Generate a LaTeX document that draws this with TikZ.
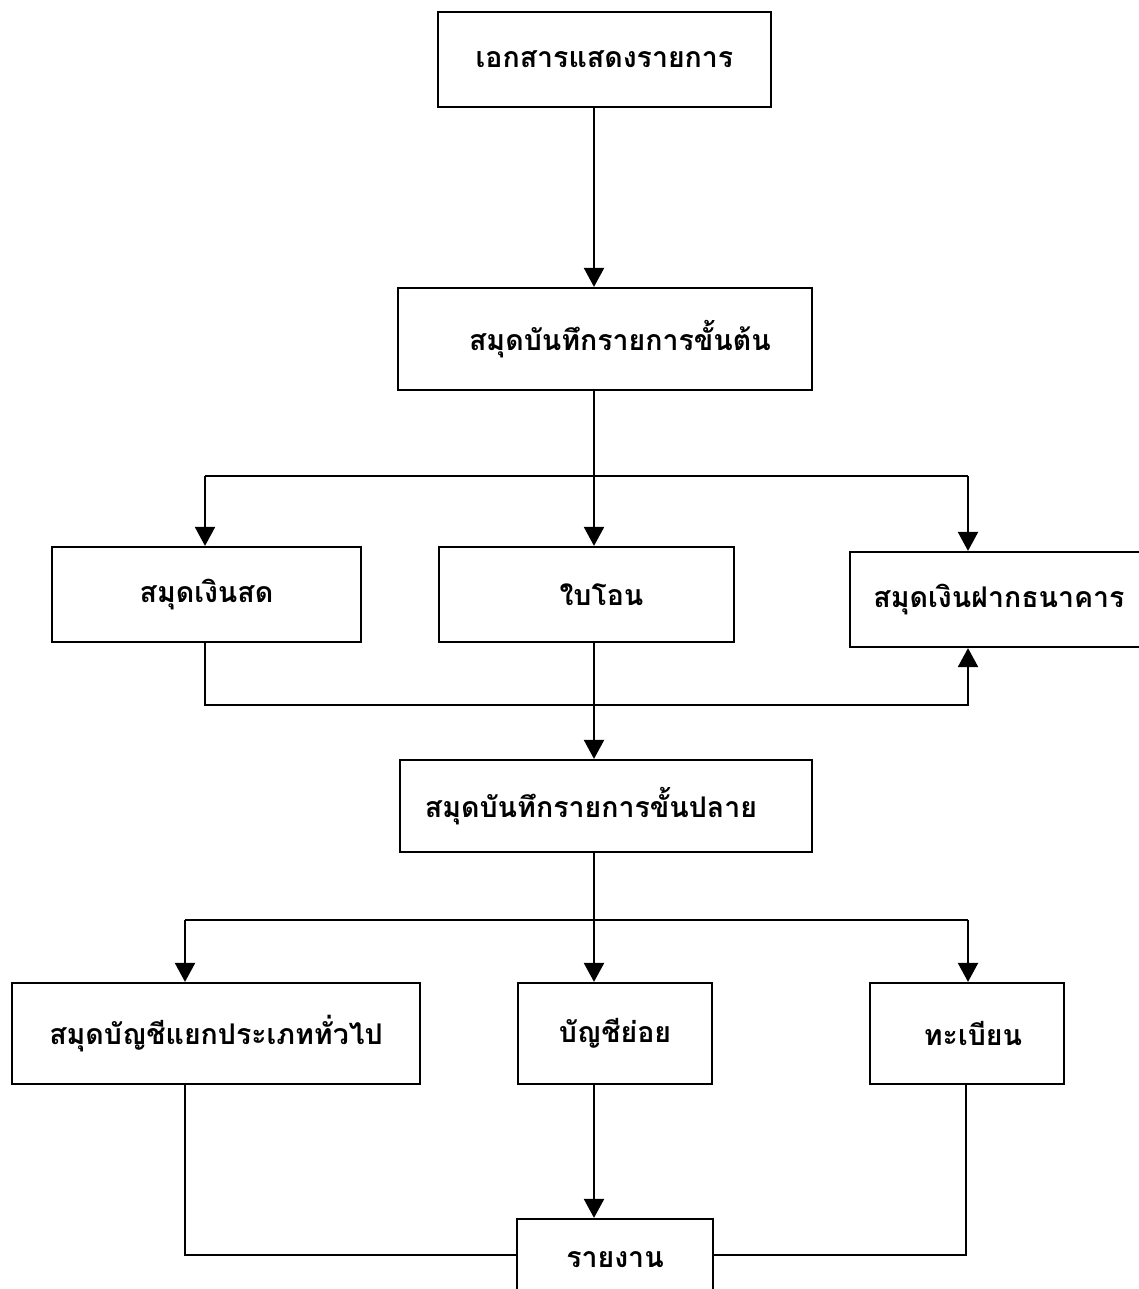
\documentclass[tikz,border=0pt]{standalone}
\usepackage{fontspec}
\newfontfamily\thaifont[Script=Thai]{Loma}
\usepackage{tikz}
\usetikzlibrary{arrows.meta, positioning}

\tikzset{
  flowbox/.style={draw, line width=2.2pt, inner sep=0pt, font=\thaifont\bfseries\fontsize{28.5}{33}\selectfont},
  flowline/.style={line width=2.2pt},
  flowarrow/.style={flowline, -{Triangle[length=19pt,width=20pt]}}
}

\begin{document}
\begin{tikzpicture}[x=1pt,y=-1pt]
    \useasboundingbox (0,0) rectangle (1139,1289);

    % Source documents and journal
    \node[flowbox, minimum width=333, minimum height=95] (doc) at (604.5,59.5) {เอกสารแสดงรายการ};
    \node[flowbox, minimum width=414, minimum height=102] (journal) at (605,339) {\hspace*{30pt}สมุดบันทึกรายการขั้นต้น};

    % Books of original entry
    \node[flowbox, minimum width=309, minimum height=95] (cash) at (206.5,594.5) {สมุดเงินสด};
    \node[flowbox, minimum width=295, minimum height=95] (transfer) at (586.5,594.5) {\hspace*{30pt}ใบโอน};
    \node[flowbox, minimum width=298, minimum height=95] (bank) at (999,599.5) {สมุดเงินฝากธนาคาร};

    % Posting
    \node[flowbox, minimum width=412, minimum height=92] (posting) at (606,806) {สมุดบันทึกรายการขั้นปลาย\hspace*{30pt}};

    % Ledgers
    \node[flowbox, minimum width=408, minimum height=101] (ledger) at (216,1033.5) {สมุดบัญชีแยกประเภททั่วไป};
    \node[flowbox, minimum width=194, minimum height=101] (sub) at (615,1033.5) {บัญชีย่อย};
    \node[flowbox, minimum width=194, minimum height=101] (register) at (967,1033.5) {\hspace*{12pt}ทะเบียน};
    \node[flowbox, minimum width=196, minimum height=81] (report) at (615,1259.5) {รายงาน};

    % Routing points
    \coordinate (trunk) at (594,0);
    \coordinate (busL) at (205,476);
    \coordinate (busR) at (968,476);
    \coordinate (loopL) at (205,705);
    \coordinate (loopR) at (968,705);
    \coordinate (postL) at (185,920);
    \coordinate (postR) at (968,920);
    \coordinate (repL) at (185,1255);
    \coordinate (repR) at (966,1255);

    % Main column
    \draw[flowarrow] (doc.south -| trunk) -- (journal.north -| trunk);
    \draw[flowarrow] (journal.south -| trunk) -- (transfer.north -| trunk);
    \draw[flowarrow] (transfer.south -| trunk) -- (posting.north -| trunk);

    % Journal to books
    \draw[flowline] (busL) -- (busR);
    \draw[flowarrow] (busL) -- (busL |- cash.north);
    \draw[flowarrow] (busR) -- (busR |- bank.north);
    \draw[flowarrow] (cash.south -| loopL) -- (loopL) -- (loopR) -- (loopR |- bank.south);

    % Posting to ledgers
    \draw[flowline] (posting.south -| trunk) -- (trunk |- postL);
    \draw[flowline] (postL) -- (postR);
    \draw[flowarrow] (postL) -- (postL |- ledger.north);
    \draw[flowarrow] (trunk |- postL) -- (sub.north -| trunk);
    \draw[flowarrow] (postR) -- (postR |- register.north);

    % Ledgers to report
    \draw[flowarrow] (sub.south -| trunk) -- (report.north -| trunk);
    \draw[flowline] (ledger.south -| repL) -- (repL) -- (report.west |- repL);
    \draw[flowline] (register.south -| repR) -- (repR) -- (report.east |- repR);
\end{tikzpicture}
\end{document}
